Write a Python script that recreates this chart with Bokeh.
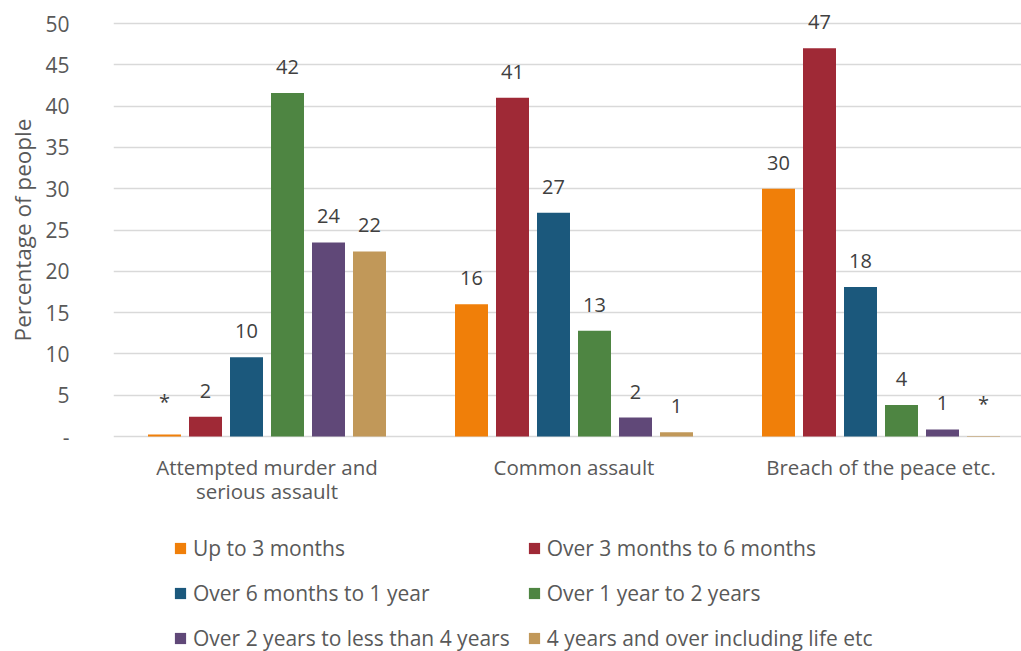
from bokeh.plotting import figure
from bokeh.layouts import row
from bokeh.models import Range1d, FixedTicker, Legend, LegendItem, ColumnDataSource
from bokeh.core.properties import value
from bokeh.embed import file_html
from bokeh.resources import INLINE

categories = ["Attempted murder and\nserious assault", "Common assault", "Breach of the peace etc."]
series_names = ["Up to 3 months", "Over 3 months to 6 months", "Over 6 months to 1 year",
                "Over 1 year to 2 years", "Over 2 years to less than 4 years",
                "4 years and over including life etc"]
colors = ["#F07F09", "#9F2936", "#1B587C", "#4E8542", "#604878", "#C19859"]
up_to_3m = [0.25, 16.0, 30.0]
m3_to_6m = [2.4, 41.0, 47.0]
m6_to_1y = [9.6, 27.1, 18.1]
y1_to_2y = [41.6, 12.8, 3.8]
y2_to_4y = [23.5, 2.3, 0.85]
y4_plus = [22.4, 0.5, 0.05]
labels_up_to_3m = ["*", "16", "30"]
labels_m3_to_6m = ["2", "41", "47"]
labels_m6_to_1y = ["10", "27", "18"]
labels_y1_to_2y = ["42", "13", "4"]
labels_y2_to_4y = ["24", "2", "1"]
labels_y4_plus = ["22", "1", "*"]
y_ticks = [0, 5, 10, 15, 20, 25, 30, 35, 40, 45, 50]
y_title = "Percentage of people"

series_values = [up_to_3m, m3_to_6m, m6_to_1y, y1_to_2y, y2_to_4y, y4_plus]
series_labels = [labels_up_to_3m, labels_m3_to_6m, labels_m6_to_1y,
                 labels_y1_to_2y, labels_y2_to_4y, labels_y4_plus]

FONT = "Open Sans"
W, H = 1021, 651
TITLE_W = 40
LEFT = 113
Y50_PX, Y0_PX = 23, 436          # canvas rows of the 50 and 0 gridlines
px_per_unit = (Y0_PX - Y50_PX) / 50.0
y_end = 50 + Y50_PX / px_per_unit
y_start = -(H - Y0_PX) / px_per_unit
group_px = 307.0
frame_w = W - LEFT
x_end = frame_w / group_px

# narrow strip carrying the rotated y-axis title
t = figure(width=TITLE_W, height=H, output_backend="svg", toolbar_location=None,
           x_range=Range1d(0, TITLE_W), y_range=Range1d(0, H),
           min_border_left=0, min_border_right=0, min_border_top=0, min_border_bottom=0)
t.axis.visible = False
t.grid.visible = False
t.outline_line_color = None
t.text(x=[22], y=[H - (Y50_PX + Y0_PX) / 2.0], text=[y_title], angle=1.5707963,
       text_align="center", text_baseline="middle", text_font=value(FONT),
       text_font_size="22.5px", text_color="#595959")

p = figure(width=W - TITLE_W, height=H, output_backend="svg", toolbar_location=None,
           x_range=Range1d(0, x_end), y_range=Range1d(y_start, y_end),
           min_border_left=LEFT - TITLE_W, min_border_top=0, min_border_right=0, min_border_bottom=0)
p.outline_line_color = None
p.xaxis.visible = False
p.xgrid.visible = False

yax = p.yaxis[0]
yax.ticker = FixedTicker(ticks=y_ticks)
yax.major_label_overrides = {0: "-"}
yax.axis_line_color = None
yax.major_tick_line_color = None
yax.minor_tick_line_color = None
yax.major_label_text_font = FONT
yax.major_label_text_font_size = "21px"
yax.major_label_text_color = "#595959"
yax.major_label_standoff = 38
p.ygrid.ticker = FixedTicker(ticks=y_ticks)
p.ygrid.grid_line_color = "#D9D9D9"
p.ygrid.grid_line_width = 1.3

bar_pitch = 41 / group_px
bar_w = 33 / group_px
items = []
for k, (name, col, vals, labs) in enumerate(zip(series_names, colors, series_values, series_labels)):
    xs = [g + 0.5 + (k - 2.5) * bar_pitch for g in range(len(categories))]
    src = ColumnDataSource(dict(x=xs, top=vals, lab=labs))
    r = p.vbar(x="x", top="top", width=bar_w, bottom=0, source=src, fill_color=col, line_color=None)
    p.text(x="x", y="top", text="lab", source=src, text_align="center", text_baseline="bottom",
           y_offset=-19, text_font=value(FONT), text_font_size="20px", text_color="#404040")
    items.append(LegendItem(label=name, renderers=[r]))

# category labels
cat_src = ColumnDataSource(dict(x=[g + 0.5 for g in range(len(categories))],
                                y=[0] * len(categories), t=categories))
p.text(x="x", y="y", text="t", source=cat_src, text_align="center", text_baseline="top",
       y_offset=16, text_font=value(FONT), text_font_size="20.5px", text_color="#595959",
       text_line_height=0.88)

legend = Legend(items=items, orientation="horizontal", ncols=2, location=(60, -1))
legend.label_text_font = FONT
legend.label_text_font_size = "21px"
legend.label_text_color = "#595959"
legend.glyph_width = 14
legend.glyph_height = 14
legend.label_standoff = 6
legend.spacing = 17
legend.padding = 0
legend.margin = 0
legend.border_line_color = None
legend.background_fill_alpha = 0
p.add_layout(legend, "center")

layout = row(t, p, spacing=0)
open("out.html", "w").write(file_html(layout, INLINE))
